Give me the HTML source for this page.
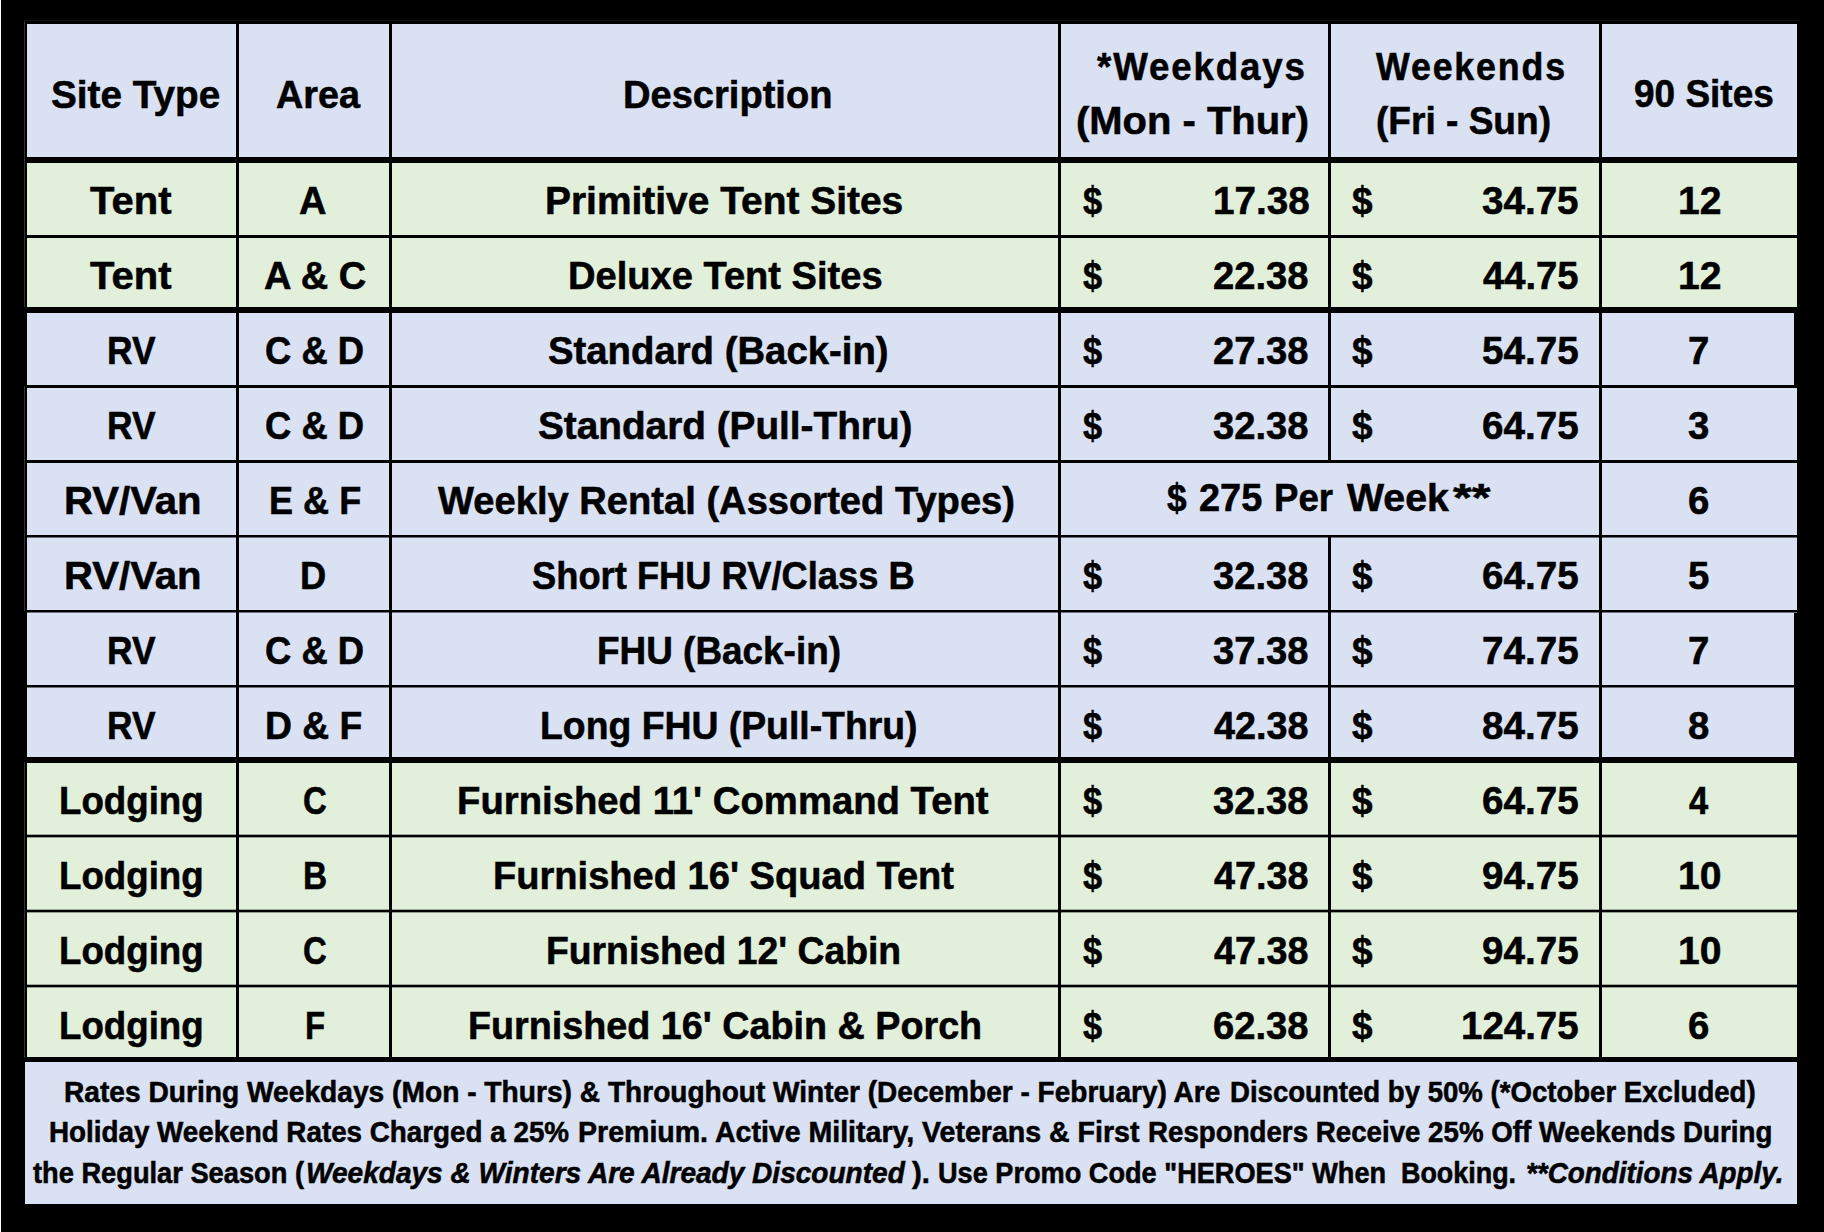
<!DOCTYPE html><html><head><meta charset="utf-8"><style>
html,body{margin:0;padding:0;width:1824px;height:1232px;overflow:hidden;background:#000;}
.r{position:absolute;}
.b{background:#D9E1F2;}.g{background:#E2EFDA;}.k{background:#000;}.w{background:#fff;}
.t{position:absolute;white-space:nowrap;-webkit-font-smoothing:antialiased;-webkit-text-stroke:0.55px #000;font-family:"Liberation Sans",sans-serif;font-weight:bold;color:#000;line-height:0;transform-origin:0 0;}
.t i{font-style:italic;}
</style></head><body>
<div class="r w" style="left:0px;top:0px;width:1px;height:1232px"></div>
<div class="r" style="left:24px;top:21px;width:1px;height:286px;background:#333"></div>
<div class="r" style="left:24px;top:386px;width:1px;height:225px;background:#333"></div>
<div class="r" style="left:24px;top:762px;width:1px;height:296px;background:#333"></div>
<div class="r" style="left:25px;top:20px;width:1774px;height:1px;background:#141414"></div>
<div class="r b" style="left:27px;top:24px;width:1770px;height:133px"></div>
<div class="r g" style="left:27px;top:163px;width:1770px;height:144px"></div>
<div class="r b" style="left:27px;top:313px;width:1770px;height:444px"></div>
<div class="r g" style="left:27px;top:763px;width:1770px;height:294px"></div>
<div class="r b" style="left:25px;top:1062px;width:1772px;height:142px"></div>
<div class="r k" style="left:1794px;top:313px;width:3px;height:72px"></div>
<div class="r k" style="left:1794px;top:613px;width:3px;height:144px"></div>
<div class="r k" style="left:27px;top:235px;width:1770px;height:3px"></div>
<div class="r k" style="left:27px;top:385px;width:1770px;height:3px"></div>
<div class="r k" style="left:27px;top:460px;width:1770px;height:3px"></div>
<div class="r k" style="left:27px;top:535px;width:1770px;height:2px"></div>
<div class="r" style="left:27px;top:537px;width:1770px;height:1px;background:rgba(0,0,0,0.5)"></div>
<div class="r k" style="left:27px;top:610px;width:1770px;height:2px"></div>
<div class="r" style="left:27px;top:612px;width:1770px;height:1px;background:rgba(0,0,0,0.5)"></div>
<div class="r k" style="left:27px;top:685px;width:1770px;height:2px"></div>
<div class="r" style="left:27px;top:687px;width:1770px;height:1px;background:rgba(0,0,0,0.5)"></div>
<div class="r k" style="left:27px;top:835px;width:1770px;height:2px"></div>
<div class="r" style="left:27px;top:834px;width:1770px;height:1px;background:rgba(0,0,0,0.3)"></div>
<div class="r" style="left:27px;top:837px;width:1770px;height:1px;background:rgba(0,0,0,0.35)"></div>
<div class="r k" style="left:27px;top:910px;width:1770px;height:2px"></div>
<div class="r" style="left:27px;top:909px;width:1770px;height:1px;background:rgba(0,0,0,0.3)"></div>
<div class="r" style="left:27px;top:912px;width:1770px;height:1px;background:rgba(0,0,0,0.35)"></div>
<div class="r k" style="left:27px;top:985px;width:1770px;height:2px"></div>
<div class="r" style="left:27px;top:984px;width:1770px;height:1px;background:rgba(0,0,0,0.3)"></div>
<div class="r" style="left:27px;top:987px;width:1770px;height:1px;background:rgba(0,0,0,0.35)"></div>
<div class="r k" style="left:236px;top:24px;width:3px;height:1033px"></div>
<div class="r k" style="left:389px;top:24px;width:3px;height:1033px"></div>
<div class="r k" style="left:1058px;top:24px;width:3px;height:1033px"></div>
<div class="r k" style="left:1599px;top:24px;width:3px;height:1033px"></div>
<div class="r k" style="left:1328px;top:24px;width:3px;height:439px"></div>
<div class="r k" style="left:1328px;top:535px;width:3px;height:522px"></div>
<div class="t" style="left:50.70px;top:92.88px;font-size:39.30px;transform:translateY(0.5px) scaleX(0.9854)">Site Type</div>
<div class="t" style="left:275.72px;top:92.88px;font-size:39.30px;transform:translateY(0.5px) scaleX(0.9610)">Area</div>
<div class="t" style="left:622.89px;top:93.18px;font-size:39.30px;transform:translateY(0.5px) scaleX(0.9688)">Description</div>
<div class="t" style="left:1097.00px;top:65.08px;font-size:39.30px;transform:translateY(0.5px) scaleX(0.9329);letter-spacing:2.0px">*Weekdays</div>
<div class="t" style="left:1075.88px;top:118.88px;font-size:39.30px;transform:translateY(0.5px) scaleX(1.0166)">(Mon - Thur)</div>
<div class="t" style="left:1375.50px;top:65.08px;font-size:39.30px;transform:translateY(0.5px) scaleX(0.9103);letter-spacing:2.0px">Weekends</div>
<div class="t" style="left:1375.99px;top:118.88px;font-size:39.30px;transform:translateY(0.5px) scaleX(0.9432)">(Fri - Sun)</div>
<div class="t" style="left:1633.73px;top:92.38px;font-size:39.30px;transform:translateY(0.5px) scaleX(0.9409)">90 Sites</div>
<div class="t" style="left:90.49px;top:199.38px;font-size:39.30px;transform:translateY(0.5px) scaleX(1.0185)">Tent</div>
<div class="t" style="left:299.44px;top:199.38px;font-size:39.30px;transform:translateY(0.5px) scaleX(0.9675)">A</div>
<div class="t" style="left:544.87px;top:199.38px;font-size:39.30px;transform:translateY(0.5px) scaleX(0.9901)">Primitive Tent Sites</div>
<div class="t" style="left:1082.99px;top:199.38px;font-size:39.30px;transform:translateY(0.5px) scaleX(0.8740)">$</div>
<div class="t" style="left:1212.89px;top:199.38px;font-size:39.30px;transform:translateY(0.5px) scaleX(0.9836)">17.38</div>
<div class="t" style="left:1352.01px;top:199.38px;font-size:39.30px;transform:translateY(0.5px) scaleX(0.9396)">$</div>
<div class="t" style="left:1482.48px;top:199.38px;font-size:39.30px;transform:translateY(0.5px) scaleX(0.9822)">34.75</div>
<div class="t" style="left:1678.30px;top:199.38px;font-size:39.30px;transform:translateY(0.5px) scaleX(0.9946)">12</div>
<div class="t" style="left:90.49px;top:274.38px;font-size:39.30px;transform:translateY(0.5px) scaleX(1.0185)">Tent</div>
<div class="t" style="left:263.96px;top:274.38px;font-size:39.30px;transform:translateY(0.5px) scaleX(0.9687)">A &amp; C</div>
<div class="t" style="left:567.88px;top:274.38px;font-size:39.30px;transform:translateY(0.5px) scaleX(0.9691)">Deluxe Tent Sites</div>
<div class="t" style="left:1082.99px;top:274.38px;font-size:39.30px;transform:translateY(0.5px) scaleX(0.8740)">$</div>
<div class="t" style="left:1212.97px;top:274.38px;font-size:39.30px;transform:translateY(0.5px) scaleX(0.9724)">22.38</div>
<div class="t" style="left:1352.01px;top:274.38px;font-size:39.30px;transform:translateY(0.5px) scaleX(0.9396)">$</div>
<div class="t" style="left:1483.49px;top:274.38px;font-size:39.30px;transform:translateY(0.5px) scaleX(0.9719)">44.75</div>
<div class="t" style="left:1678.30px;top:274.38px;font-size:39.30px;transform:translateY(0.5px) scaleX(0.9946)">12</div>
<div class="t" style="left:107.04px;top:349.38px;font-size:39.30px;transform:translateY(0.5px) scaleX(0.9008)">RV</div>
<div class="t" style="left:265.01px;top:349.38px;font-size:39.30px;transform:translateY(0.5px) scaleX(0.9260)">C &amp; D</div>
<div class="t" style="left:548.42px;top:349.38px;font-size:39.30px;transform:translateY(0.5px) scaleX(0.9748)">Standard (Back-in)</div>
<div class="t" style="left:1082.99px;top:349.38px;font-size:39.30px;transform:translateY(0.5px) scaleX(0.8740)">$</div>
<div class="t" style="left:1212.97px;top:349.38px;font-size:39.30px;transform:translateY(0.5px) scaleX(0.9724)">27.38</div>
<div class="t" style="left:1352.01px;top:349.38px;font-size:39.30px;transform:translateY(0.5px) scaleX(0.9396)">$</div>
<div class="t" style="left:1482.43px;top:349.38px;font-size:39.30px;transform:translateY(0.5px) scaleX(0.9829)">54.75</div>
<div class="t" style="left:1688.43px;top:349.38px;font-size:39.30px;transform:translateY(0.5px) scaleX(0.9756)">7</div>
<div class="t" style="left:107.04px;top:424.38px;font-size:39.30px;transform:translateY(0.5px) scaleX(0.9008)">RV</div>
<div class="t" style="left:265.01px;top:424.38px;font-size:39.30px;transform:translateY(0.5px) scaleX(0.9260)">C &amp; D</div>
<div class="t" style="left:537.91px;top:424.38px;font-size:39.30px;transform:translateY(0.5px) scaleX(0.9859)">Standard (Pull-Thru)</div>
<div class="t" style="left:1082.99px;top:424.38px;font-size:39.30px;transform:translateY(0.5px) scaleX(0.8740)">$</div>
<div class="t" style="left:1213.02px;top:424.38px;font-size:39.30px;transform:translateY(0.5px) scaleX(0.9717)">32.38</div>
<div class="t" style="left:1352.01px;top:424.38px;font-size:39.30px;transform:translateY(0.5px) scaleX(0.9396)">$</div>
<div class="t" style="left:1482.43px;top:424.38px;font-size:39.30px;transform:translateY(0.5px) scaleX(0.9829)">64.75</div>
<div class="t" style="left:1688.43px;top:424.38px;font-size:39.30px;transform:translateY(0.5px) scaleX(0.9756)">3</div>
<div class="t" style="left:63.73px;top:499.38px;font-size:39.30px;transform:translateY(0.5px) scaleX(1.0206)">RV/Van</div>
<div class="t" style="left:268.51px;top:499.38px;font-size:39.30px;transform:translateY(0.5px) scaleX(0.9181)">E &amp; F</div>
<div class="t" style="left:437.97px;top:499.38px;font-size:39.30px;transform:translateY(0.5px) scaleX(0.9702)">Weekly Rental (Assorted Types)</div>
<div class="t" style="left:1167.48px;top:496.38px;font-size:39.30px;transform:translateY(0.5px) scaleX(0.8961)">$</div>
<div class="t" style="left:1199.48px;top:496.38px;font-size:39.30px;transform:translateY(0.5px) scaleX(0.9648)">275</div>
<div class="t" style="left:1274.49px;top:496.38px;font-size:39.30px;transform:translateY(0.5px) scaleX(0.9304)">Per</div>
<div class="t" style="left:1347.47px;top:496.38px;font-size:39.30px;transform:translateY(0.5px) scaleX(0.9994)">Week</div>
<div class="t" style="left:1453.00px;top:496.38px;font-size:39.30px;transform:translateY(0.5px) scaleX(1.2232)">**</div>
<div class="t" style="left:1688.48px;top:499.38px;font-size:39.30px;transform:translateY(0.5px) scaleX(0.9756)">6</div>
<div class="t" style="left:63.73px;top:574.38px;font-size:39.30px;transform:translateY(0.5px) scaleX(1.0206)">RV/Van</div>
<div class="t" style="left:300.46px;top:574.38px;font-size:39.30px;transform:translateY(0.5px) scaleX(0.9229)">D</div>
<div class="t" style="left:532.49px;top:574.38px;font-size:39.30px;transform:translateY(0.5px) scaleX(0.9240)">Short FHU RV/Class B</div>
<div class="t" style="left:1082.99px;top:574.38px;font-size:39.30px;transform:translateY(0.5px) scaleX(0.8740)">$</div>
<div class="t" style="left:1213.02px;top:574.38px;font-size:39.30px;transform:translateY(0.5px) scaleX(0.9717)">32.38</div>
<div class="t" style="left:1352.01px;top:574.38px;font-size:39.30px;transform:translateY(0.5px) scaleX(0.9396)">$</div>
<div class="t" style="left:1482.43px;top:574.38px;font-size:39.30px;transform:translateY(0.5px) scaleX(0.9829)">64.75</div>
<div class="t" style="left:1688.32px;top:574.38px;font-size:39.30px;transform:translateY(0.5px) scaleX(0.9756)">5</div>
<div class="t" style="left:107.04px;top:649.38px;font-size:39.30px;transform:translateY(0.5px) scaleX(0.9008)">RV</div>
<div class="t" style="left:265.01px;top:649.38px;font-size:39.30px;transform:translateY(0.5px) scaleX(0.9260)">C &amp; D</div>
<div class="t" style="left:596.96px;top:649.38px;font-size:39.30px;transform:translateY(0.5px) scaleX(0.9390)">FHU (Back-in)</div>
<div class="t" style="left:1082.99px;top:649.38px;font-size:39.30px;transform:translateY(0.5px) scaleX(0.8740)">$</div>
<div class="t" style="left:1213.02px;top:649.38px;font-size:39.30px;transform:translateY(0.5px) scaleX(0.9717)">37.38</div>
<div class="t" style="left:1352.01px;top:649.38px;font-size:39.30px;transform:translateY(0.5px) scaleX(0.9396)">$</div>
<div class="t" style="left:1482.43px;top:649.38px;font-size:39.30px;transform:translateY(0.5px) scaleX(0.9829)">74.75</div>
<div class="t" style="left:1688.43px;top:649.38px;font-size:39.30px;transform:translateY(0.5px) scaleX(0.9756)">7</div>
<div class="t" style="left:107.04px;top:724.38px;font-size:39.30px;transform:translateY(0.5px) scaleX(0.9008)">RV</div>
<div class="t" style="left:264.96px;top:724.38px;font-size:39.30px;transform:translateY(0.5px) scaleX(0.9485)">D &amp; F</div>
<div class="t" style="left:539.95px;top:724.38px;font-size:39.30px;transform:translateY(0.5px) scaleX(0.9504)">Long FHU (Pull-Thru)</div>
<div class="t" style="left:1082.99px;top:724.38px;font-size:39.30px;transform:translateY(0.5px) scaleX(0.8740)">$</div>
<div class="t" style="left:1214.03px;top:724.38px;font-size:39.30px;transform:translateY(0.5px) scaleX(0.9615)">42.38</div>
<div class="t" style="left:1352.01px;top:724.38px;font-size:39.30px;transform:translateY(0.5px) scaleX(0.9396)">$</div>
<div class="t" style="left:1482.43px;top:724.38px;font-size:39.30px;transform:translateY(0.5px) scaleX(0.9829)">84.75</div>
<div class="t" style="left:1688.42px;top:724.38px;font-size:39.30px;transform:translateY(0.5px) scaleX(0.9756)">8</div>
<div class="t" style="left:58.96px;top:799.38px;font-size:39.30px;transform:translateY(0.5px) scaleX(0.9336)">Lodging</div>
<div class="t" style="left:303.08px;top:799.38px;font-size:39.30px;transform:translateY(0.5px) scaleX(0.8382)">C</div>
<div class="t" style="left:457.35px;top:799.38px;font-size:39.30px;transform:translateY(0.5px) scaleX(0.9740)">Furnished 11' Command Tent</div>
<div class="t" style="left:1082.99px;top:799.38px;font-size:39.30px;transform:translateY(0.5px) scaleX(0.8740)">$</div>
<div class="t" style="left:1213.02px;top:799.38px;font-size:39.30px;transform:translateY(0.5px) scaleX(0.9717)">32.38</div>
<div class="t" style="left:1352.01px;top:799.38px;font-size:39.30px;transform:translateY(0.5px) scaleX(0.9396)">$</div>
<div class="t" style="left:1482.43px;top:799.38px;font-size:39.30px;transform:translateY(0.5px) scaleX(0.9829)">64.75</div>
<div class="t" style="left:1689.49px;top:799.38px;font-size:39.30px;transform:translateY(0.5px) scaleX(0.8780)">4</div>
<div class="t" style="left:58.96px;top:874.38px;font-size:39.30px;transform:translateY(0.5px) scaleX(0.9336)">Lodging</div>
<div class="t" style="left:303.13px;top:874.38px;font-size:39.30px;transform:translateY(0.5px) scaleX(0.8506)">B</div>
<div class="t" style="left:492.89px;top:874.38px;font-size:39.30px;transform:translateY(0.5px) scaleX(0.9688)">Furnished 16' Squad Tent</div>
<div class="t" style="left:1082.99px;top:874.38px;font-size:39.30px;transform:translateY(0.5px) scaleX(0.8740)">$</div>
<div class="t" style="left:1214.03px;top:874.38px;font-size:39.30px;transform:translateY(0.5px) scaleX(0.9615)">47.38</div>
<div class="t" style="left:1352.01px;top:874.38px;font-size:39.30px;transform:translateY(0.5px) scaleX(0.9396)">$</div>
<div class="t" style="left:1482.43px;top:874.38px;font-size:39.30px;transform:translateY(0.5px) scaleX(0.9829)">94.75</div>
<div class="t" style="left:1678.30px;top:874.38px;font-size:39.30px;transform:translateY(0.5px) scaleX(0.9946)">10</div>
<div class="t" style="left:58.96px;top:949.38px;font-size:39.30px;transform:translateY(0.5px) scaleX(0.9336)">Lodging</div>
<div class="t" style="left:303.08px;top:949.38px;font-size:39.30px;transform:translateY(0.5px) scaleX(0.8382)">C</div>
<div class="t" style="left:546.45px;top:949.38px;font-size:39.30px;transform:translateY(0.5px) scaleX(0.9496)">Furnished 12' Cabin</div>
<div class="t" style="left:1082.99px;top:949.38px;font-size:39.30px;transform:translateY(0.5px) scaleX(0.8740)">$</div>
<div class="t" style="left:1214.03px;top:949.38px;font-size:39.30px;transform:translateY(0.5px) scaleX(0.9615)">47.38</div>
<div class="t" style="left:1352.01px;top:949.38px;font-size:39.30px;transform:translateY(0.5px) scaleX(0.9396)">$</div>
<div class="t" style="left:1482.43px;top:949.38px;font-size:39.30px;transform:translateY(0.5px) scaleX(0.9829)">94.75</div>
<div class="t" style="left:1678.30px;top:949.38px;font-size:39.30px;transform:translateY(0.5px) scaleX(0.9946)">10</div>
<div class="t" style="left:58.96px;top:1024.38px;font-size:39.30px;transform:translateY(0.5px) scaleX(0.9336)">Lodging</div>
<div class="t" style="left:304.69px;top:1024.38px;font-size:39.30px;transform:translateY(0.5px) scaleX(0.8366)">F</div>
<div class="t" style="left:468.38px;top:1024.38px;font-size:39.30px;transform:translateY(0.5px) scaleX(0.9600)">Furnished 16' Cabin &amp; Porch</div>
<div class="t" style="left:1082.99px;top:1024.38px;font-size:39.30px;transform:translateY(0.5px) scaleX(0.8740)">$</div>
<div class="t" style="left:1212.97px;top:1024.38px;font-size:39.30px;transform:translateY(0.5px) scaleX(0.9724)">62.38</div>
<div class="t" style="left:1352.01px;top:1024.38px;font-size:39.30px;transform:translateY(0.5px) scaleX(0.9396)">$</div>
<div class="t" style="left:1461.34px;top:1024.38px;font-size:39.30px;transform:translateY(0.5px) scaleX(0.9787)">124.75</div>
<div class="t" style="left:1688.48px;top:1024.38px;font-size:39.30px;transform:translateY(0.5px) scaleX(0.9756)">6</div>
<div class="t" style="left:64.08px;top:1091.28px;font-size:29.50px;transform:translateY(0.5px) scaleX(0.9545)">Rates During Weekdays (Mon - Thurs) &amp;</div>
<div class="t" style="left:608.24px;top:1091.28px;font-size:29.50px;transform:translateY(0.5px) scaleX(0.9502)">Throughout Winter (December - February) Are</div>
<div class="t" style="left:1230.43px;top:1091.28px;font-size:29.50px;transform:translateY(0.5px) scaleX(0.9349)">Discounted by 50% (*October Excluded)</div>
<div class="t" style="left:48.67px;top:1131.38px;font-size:29.50px;transform:translateY(0.5px) scaleX(0.9422)">Holiday Weekend Rates Charged a 25%</div>
<div class="t" style="left:578.27px;top:1131.38px;font-size:29.50px;transform:translateY(0.5px) scaleX(0.9673)">Premium. Active Military, Veterans &amp; First</div>
<div class="t" style="left:1148.08px;top:1131.38px;font-size:29.50px;transform:translateY(0.5px) scaleX(0.9387)">Responders Receive 25% Off Weekends During</div>
<div class="t" style="left:33.20px;top:1171.58px;font-size:29.50px;transform:translateY(0.5px) scaleX(0.9235)">the Regular Season (</div>
<div class="t" style="left:306.23px;top:1171.58px;font-size:29.50px;transform:translateY(0.5px) scaleX(0.9508)"><i>Weekdays &amp; Winters Are Already Discounted</i></div>
<div class="t" style="left:911.51px;top:1171.58px;font-size:29.50px;transform:translateY(0.5px) scaleX(0.9932)">).</div>
<div class="t" style="left:938.09px;top:1171.58px;font-size:29.50px;transform:translateY(0.5px) scaleX(0.9202)">Use Promo Code "HEROES" When</div>
<div class="t" style="left:1400.90px;top:1171.58px;font-size:29.50px;transform:translateY(0.5px) scaleX(0.9120)">Booking.</div>
<div class="t" style="left:1525.66px;top:1171.58px;font-size:29.50px;transform:translateY(0.5px) scaleX(0.9427)"><i>**Conditions Apply.</i></div>
</body></html>
